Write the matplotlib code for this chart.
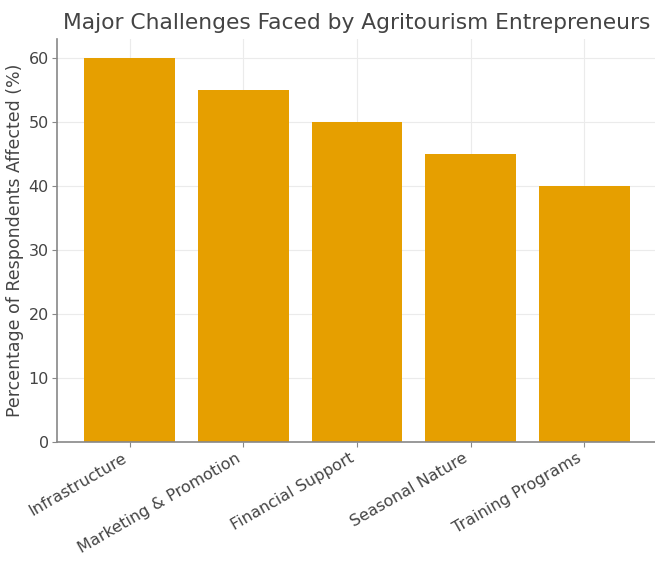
import matplotlib
matplotlib.use("Agg")
import matplotlib.pyplot as plt

categories = ["Infrastructure", "Marketing & Promotion", "Financial Support",
              "Seasonal Nature", "Training Programs"]
percentages = [60, 55, 50, 45, 40]
yticks = [0, 10, 20, 30, 40, 50, 60]

fig = plt.figure(figsize=(6.55, 5.62), dpi=100)
ax = fig.add_axes([0.087, 0.2135, 0.916, 0.717])

ax.set_axisbelow(True)
ax.grid(True, color="#ebebeb", linewidth=0.8)
ax.bar(categories, percentages, width=0.8, color="#E69F00")

ax.set_yticks(yticks)
ax.set_title("Major Challenges Faced by Agritourism Entrepreneurs",
             fontsize=15.7, color="#444444", pad=7)
ax.set_ylabel("Percentage of Respondents Affected (%)", fontsize=12.5,
              color="#444444", labelpad=3)
plt.setp(ax.get_xticklabels(), rotation=30, ha="right")
ax.tick_params(axis="both", labelsize=11.5, colors="#444444", length=3.5,
               pad=2.5)
ax.tick_params(axis="both", color="#888888")

for side in ("top", "right"):
    ax.spines[side].set_visible(False)
for side in ("left", "bottom"):
    ax.spines[side].set_color("#888888")
    ax.spines[side].set_linewidth(1.2)

fig.savefig("out.png", dpi=100)
